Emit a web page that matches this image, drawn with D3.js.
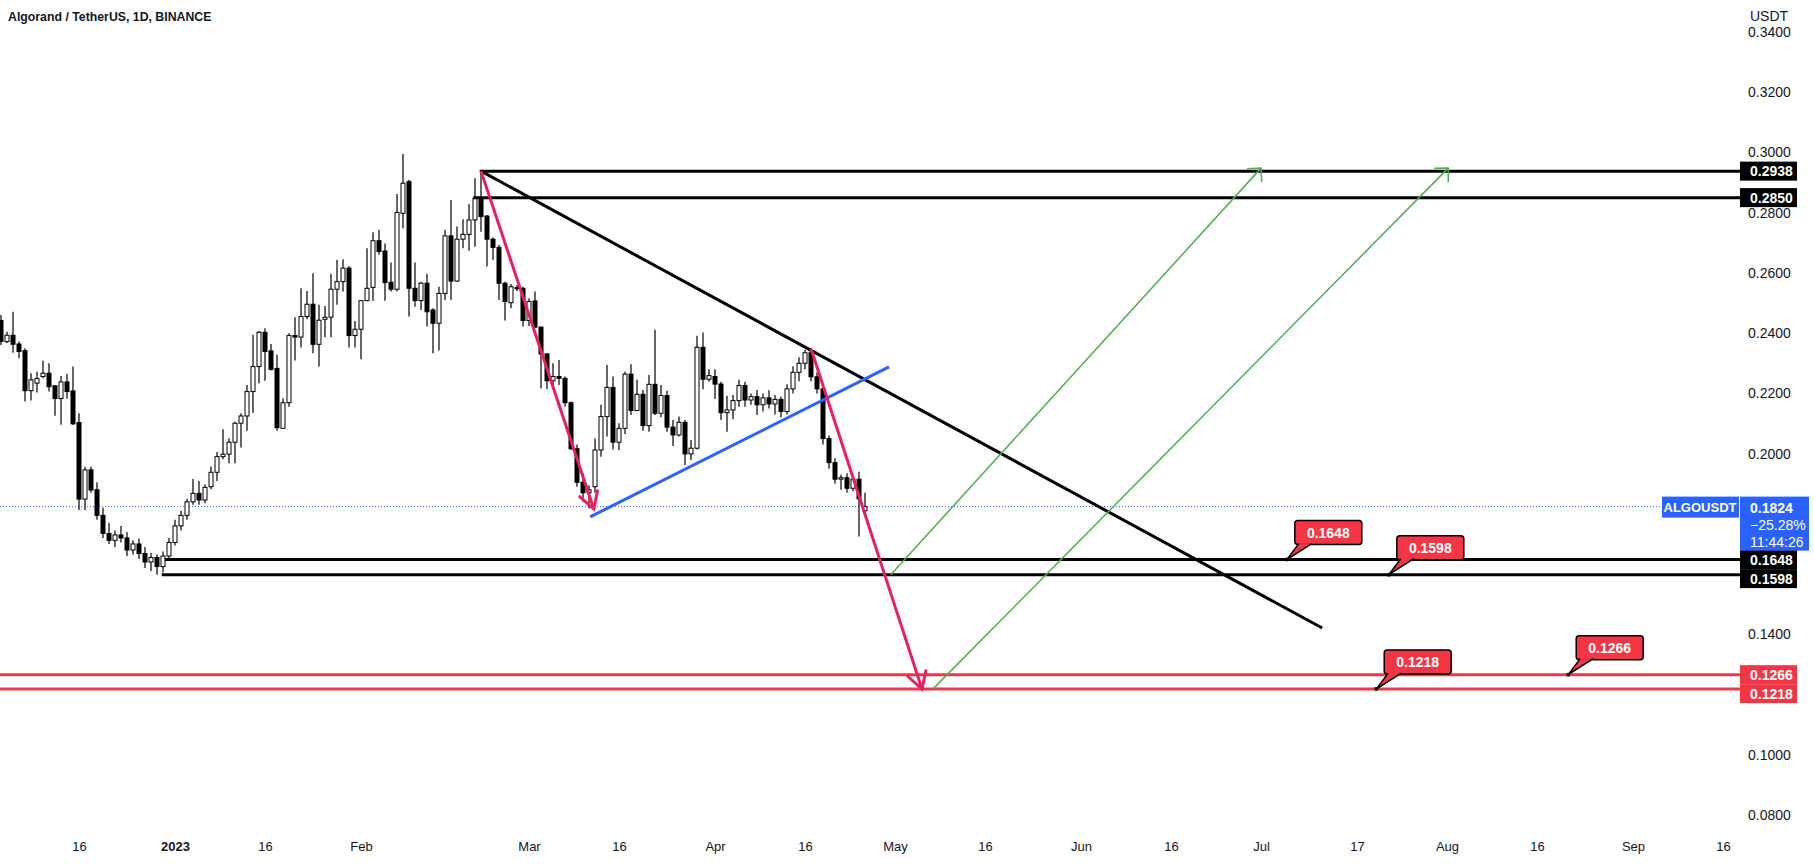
<!DOCTYPE html>
<html>
<head>
<meta charset="utf-8">
<script src="https://cdn.jsdelivr.net/npm/d3@7"></script>
<style>
  body { margin: 0; background: #fff; }
  svg { display: block; font-family: "Liberation Sans", Arial, sans-serif; }
</style>
</head>
<body>
<script>
// Daily candles, first one is 3 Dec 2022 (day -29 counted from 1 Jan 2023)
const firstDay = -29;
const opens = [
  .2442,.2372,.2393,.2364,.2342,.2209,.2234,.2256,.2267,.2225,.2183,.2238,.2208,.2103,.1849,.1946,
  .1880,.1795,.1735,.1712,.1730,.1720,.1680,.1700,.1668,.1640,.1655,.1625,.1660,.1705,.1760,.1795,
  .1840,.1868,.1846,.1890,.1938,.1990,.1998,.2038,.2101,.2125,.2206,.2289,.2403,.2341,.2283,.2084,
  .2169,.2392,.2387,.2455,.2496,.2363,.2446,.2453,.2546,.2571,.2616,.2392,.2413,.2508,.2552,.2707,
  .2673,.2569,.2546,.2798,.2903,.2549,.2508,.2566,.2477,.2433,.2532,.2723,.2573,.2712,.2728,.2776,
  .2848,.2789,.2712,.2685,.2566,.2501,.2551,.2549,.2442,.2507,.2420,.2331,.2242,.2256,.2250,.2169,
  .2016,.1905,.1870,.1890,.2012,.2123,.2220,.2038,.2084,.2264,.2143,.2197,.2093,.2230,.2134,.2193,
  .2088,.2062,.2104,.1999,.2018,.2353,.2247,.2256,.2231,.2136,.2145,.2176,.2226,.2178,.2189,
  .2162,.2185,.2165,.2180,.2140,.2215,.2270,.2300,.2335,.2255,.2215,.2050,.1970,.1915,.1920,.1885,.1915,.1810
];
const highs = [
  .2460,.2405,.2471,.2372,.2350,.2267,.2272,.2308,.2300,.2228,.2258,.2265,.2289,.2134,.1956,.1956,
  .1905,.1820,.1770,.1745,.1760,.1740,.1712,.1718,.1690,.1670,.1665,.1675,.1720,.1780,.1810,.1850,
  .1916,.1909,.1898,.1957,.2005,.2081,.2051,.2106,.2134,.2228,.2394,.2407,.2416,.2364,.2328,.2184,
  .2400,.2453,.2549,.2540,.2599,.2494,.2490,.2597,.2643,.2645,.2623,.2440,.2510,.2682,.2735,.2743,
  .2698,.2635,.2862,.2995,.2909,.2635,.2571,.2597,.2483,.2554,.2743,.2842,.2754,.2778,.2829,.2914,
  .2938,.2792,.2718,.2693,.2571,.2563,.2560,.2554,.2516,.2538,.2422,.2333,.2300,.2311,.2256,.2173,
  .2030,.1935,.1895,.2050,.2162,.2294,.2256,.2101,.2272,.2297,.2245,.2211,.2261,.2411,.2228,.2209,
  .2112,.2123,.2112,.2045,.2391,.2402,.2280,.2280,.2239,.2192,.2195,.2245,.2239,.2200,.2211,
  .2200,.2210,.2195,.2190,.2230,.2290,.2320,.2345,.2350,.2270,.2225,.2060,.1985,.1930,.1935,.1930,.1940,.1870
];
const lows = [
  .2361,.2367,.2335,.2317,.2173,.2176,.2203,.2250,.2206,.2126,.2096,.2182,.2095,.1813,.1813,.1870,
  .1780,.1720,.1700,.1690,.1705,.1660,.1665,.1650,.1620,.1610,.1598,.1605,.1650,.1695,.1745,.1780,
  .1830,.1830,.1835,.1882,.1909,.1981,.1968,.1968,.2020,.2076,.2136,.2234,.2242,.2276,.2076,.2084,
  .2156,.2309,.2352,.2446,.2333,.2289,.2386,.2386,.2494,.2538,.2352,.2352,.2313,.2508,.2508,.2660,
  .2508,.2538,.2538,.2748,.2455,.2488,.2477,.2422,.2333,.2342,.2510,.2510,.2571,.2682,.2674,.2687,
  .2737,.2621,.2643,.2510,.2442,.2483,.2540,.2422,.2424,.2416,.2217,.2214,.2217,.2228,.2156,.2012,
  .1890,.1840,.1818,.1870,.1990,.2057,.2014,.2012,.2065,.2128,.2143,.2076,.2073,.2128,.2121,.2073,
  .2025,.2057,.1962,.1979,.2014,.2214,.2239,.2181,.2112,.2073,.2114,.2156,.2156,.2162,.2128,
  .2140,.2150,.2130,.2120,.2130,.2200,.2240,.2280,.2240,.2200,.2030,.1950,.1900,.1880,.1870,.1875,.1725,.1805
];
const closes = [
  .2372,.2393,.2363,.2339,.2209,.2245,.2249,.2267,.2222,.2183,.2238,.2206,.2099,.1849,.1946,.1879,
  .1795,.1735,.1712,.1730,.1720,.1680,.1700,.1668,.1640,.1655,.1625,.1660,.1705,.1760,.1795,.1840,
  .1868,.1846,.1888,.1938,.1990,.1998,.2038,.2101,.2125,.2206,.2289,.2403,.2339,.2280,.2086,.2169,
  .2392,.2387,.2455,.2496,.2363,.2443,.2453,.2546,.2571,.2616,.2392,.2413,.2508,.2549,.2707,.2671,
  .2568,.2546,.2801,.2898,.2549,.2508,.2566,.2471,.2433,.2532,.2723,.2573,.2712,.2728,.2776,.2848,
  .2787,.2712,.2685,.2566,.2505,.2554,.2548,.2442,.2505,.2420,.2331,.2242,.2256,.2250,.2169,.2016,
  .1905,.1870,.1880,.2012,.2123,.2220,.2038,.2084,.2264,.2143,.2197,.2093,.2230,.2134,.2193,.2088,
  .2062,.2104,.1999,.2018,.2353,.2247,.2259,.2231,.2136,.2145,.2176,.2226,.2178,.2189,.2162,
  .2185,.2165,.2180,.2140,.2215,.2270,.2300,.2335,.2255,.2215,.2050,.1970,.1915,.1920,.1885,.1915,.1850,.1824
];

// axis ticks
const priceTicks = [0.34, 0.32, 0.30, 0.28, 0.26, 0.24, 0.22, 0.20, 0.14, 0.10, 0.08];
const timeTicks = [-16, 0, 15, 31, 59, 74, 90, 105, 120, 135, 151, 166, 181, 197, 212, 227, 243, 258];
const timeLabels = ["16", "2023", "16", "Feb", "Mar", "16", "Apr", "16", "May", "16", "Jun", "16", "Jul", "17", "Aug", "16", "Sep", "16"];

// drawings (day from 1 Jan 2023, price)
const levels = [
  { price: 0.2938, from: 50.8, color: "#000" },
  { price: 0.2850, from: 49.7, color: "#000" },
  { price: 0.1648, from: -1.7, color: "#000" },
  { price: 0.1598, from: -2.2, color: "#000" },
  { price: 0.1266, from: -31, color: "#f23645" },
  { price: 0.1218, from: -31, color: "#f23645" }
];
const trendLine = [[51, 0.2938], [191.2, 0.1421]];
const supportLine = [[69.2, 0.1790], [119, 0.2288]];
const redArrows = [
  [[51, 0.2938], [69.8, 0.1816]],
  [[106, 0.2348], [124.5, 0.1218]]
];
const greenArrows = [
  [[119.3, 0.1598], [181, 0.2948]],
  [[126.3, 0.1218], [212.2, 0.2948]]
];
const callouts = [
  { text: "0.1648", day: 185.3, price: 0.1648 },
  { text: "0.1598", day: 202.3, price: 0.1598 },
  { text: "0.1218", day: 200.2, price: 0.1218 },
  { text: "0.1266", day: 232.2, price: 0.1266 }
];
const lastPrice = 0.1824;

const W = 1814, H = 864, paneRight = 1740;
const day0 = Date.UTC(2023, 0, 1);
const toDate = d => new Date(day0 + d * 864e5);

const x = d3.scaleUtc().domain([toDate(0), toDate(243)]).range([175, 175 + 243 * 6]);
const y = d3.scaleLinear().domain([0.34, 0.08]).range([32, 815]);
const px = d => x(toDate(d));

const svg = d3.select("body").append("svg")
    .attr("width", W)
    .attr("height", H);

svg.append("rect").attr("width", W).attr("height", H).attr("fill", "#fff");

svg.append("clipPath").attr("id", "pane")
  .append("rect").attr("width", paneRight).attr("height", 830);

const pane = svg.append("g").attr("clip-path", "url(#pane)");

// last price dotted line
pane.append("line")
    .attr("x1", 0).attr("x2", 1662)
    .attr("y1", y(lastPrice)).attr("y2", y(lastPrice))
    .attr("stroke", "#2962ff")
    .attr("stroke-width", 1)
    .attr("stroke-dasharray", "1,2");

// candles
const candles = opens.map((o, i) => ({
  date: toDate(firstDay + i), o, h: highs[i], l: lows[i], c: closes[i]
}));

const cg = pane.selectAll(".candle")
    .data(candles)
    .enter().append("g");

cg.append("line")
    .attr("x1", d => x(d.date)).attr("x2", d => x(d.date))
    .attr("y1", d => y(d.h)).attr("y2", d => y(d.l))
    .attr("stroke", "#000")
    .attr("stroke-width", 1.2);

cg.append("rect")
    .attr("x", d => x(d.date) - 2)
    .attr("width", 4)
    .attr("y", d => y(Math.max(d.o, d.c)))
    .attr("height", d => Math.max(1, Math.abs(y(d.o) - y(d.c))))
    .attr("fill", d => d.c >= d.o ? "#fff" : "#000")
    .attr("stroke", "#000")
    .attr("stroke-width", 1);

// horizontal levels
pane.selectAll(".level")
    .data(levels)
    .enter().append("line")
    .attr("x1", d => px(d.from)).attr("x2", paneRight)
    .attr("y1", d => y(d.price)).attr("y2", d => y(d.price))
    .attr("stroke", d => d.color)
    .attr("stroke-width", 3);

const line = d3.line().x(d => px(d[0])).y(d => y(d[1]));

pane.append("path").attr("d", line(trendLine))
    .attr("fill", "none").attr("stroke", "#000").attr("stroke-width", 3);

pane.append("path").attr("d", line(supportLine))
    .attr("fill", "none").attr("stroke", "#2962ff").attr("stroke-width", 3);

function arrowHead(seg, len, ang) {
  const x0 = px(seg[0][0]), y0 = y(seg[0][1]);
  const x1 = px(seg[1][0]), y1 = y(seg[1][1]);
  const a = Math.atan2(y0 - y1, x0 - x1);
  const p1 = [x1 + len * Math.cos(a + ang), y1 + len * Math.sin(a + ang)];
  const p2 = [x1 + len * Math.cos(a - ang), y1 + len * Math.sin(a - ang)];
  return `M${p1}L${x1},${y1}L${p2}`;
}

redArrows.forEach(seg => {
  pane.append("path").attr("d", line(seg))
      .attr("fill", "none").attr("stroke", "#e91e63").attr("stroke-width", 3);
  pane.append("path").attr("d", arrowHead(seg, 20, Math.PI / 6))
      .attr("fill", "none").attr("stroke", "#e91e63").attr("stroke-width", 3)
      .attr("stroke-linejoin", "miter");
});

greenArrows.forEach(seg => {
  pane.append("path").attr("d", line(seg))
      .attr("fill", "none").attr("stroke", "#4caf50").attr("stroke-width", 1.5);
  pane.append("path").attr("d", arrowHead(seg, 14, Math.PI / 4))
      .attr("fill", "none").attr("stroke", "#4caf50").attr("stroke-width", 1.5);
});

// price callouts
callouts.forEach(c => {
  const ax = px(c.day), ay = y(c.price);
  const bx = ax + 8, bw = 67, bh = 24, by = ay - 15 - bh;
  pane.append("rect")
      .attr("x", bx).attr("y", by).attr("width", bw).attr("height", bh)
      .attr("rx", 3)
      .attr("fill", "#f23645").attr("stroke", "#000").attr("stroke-width", 1.5);
  pane.append("path")
      .attr("d", `M${bx + 4},${by + bh - 1}L${ax},${ay}L${bx + 17},${by + bh - 1}`)
      .attr("fill", "#f23645").attr("stroke", "#000").attr("stroke-width", 1.5);
  pane.append("circle").attr("cx", ax).attr("cy", ay).attr("r", 2).attr("fill", "#000");
  pane.append("text")
      .attr("x", bx + bw / 2).attr("y", by + bh / 2 + 5)
      .attr("text-anchor", "middle")
      .attr("font-size", 14).attr("font-weight", "bold")
      .attr("fill", "#fff")
      .text(c.text);
});

// title
svg.append("text")
    .attr("x", 8).attr("y", 21)
    .attr("font-size", 12.3).attr("font-weight", "bold")
    .attr("fill", "#131722")
    .text("Algorand / TetherUS, 1D, BINANCE");

// price axis
svg.append("text")
    .attr("x", 1750).attr("y", 21)
    .attr("font-size", 14).attr("fill", "#131722")
    .text("USDT");

const yAxis = svg.append("g")
    .attr("transform", `translate(${paneRight},0)`)
    .call(d3.axisRight(y).tickValues(priceTicks).tickFormat(d3.format(".4f")).tickSize(0).tickPadding(8));
yAxis.select(".domain").remove();
yAxis.selectAll("text")
    .attr("font-family", "Liberation Sans, Arial, sans-serif")
    .attr("font-size", 14).attr("fill", "#131722");

// time axis
const xAxis = svg.append("g")
    .attr("transform", "translate(0,842)")
    .call(d3.axisBottom(x)
      .tickValues(timeTicks.map(toDate))
      .tickFormat((d, i) => timeLabels[i])
      .tickSize(0).tickPadding(0));
xAxis.select(".domain").remove();
xAxis.selectAll("text")
    .attr("font-family", "Liberation Sans, Arial, sans-serif")
    .attr("font-size", 13).attr("fill", "#131722")
    .attr("font-weight", (d, i) => timeLabels[i] === "2023" ? "bold" : "normal");

// level labels on the price axis, pushed apart when they overlap
const boxH = 19;
let lastBottom = -Infinity;
levels.map(l => ({ ...l, yc: y(l.price) }))
  .sort((a, b) => a.yc - b.yc)
  .forEach(l => {
    let top = l.yc - boxH / 2;
    if (top < lastBottom) top = lastBottom;
    lastBottom = top + boxH;
    svg.append("rect")
        .attr("x", paneRight).attr("y", top).attr("width", 57).attr("height", boxH)
        .attr("fill", l.color);
    svg.append("text")
        .attr("x", 1750).attr("y", top + boxH / 2 + 5)
        .attr("font-size", 14).attr("font-weight", "bold").attr("fill", "#fff")
        .text(l.price.toFixed(4));
  });

// last price labels
const ly = y(lastPrice);
svg.append("rect")
    .attr("x", 1662).attr("y", ly - 10).attr("width", 77).attr("height", 21)
    .attr("fill", "#2962ff");
svg.append("text")
    .attr("x", 1700).attr("y", ly + 5)
    .attr("text-anchor", "middle")
    .attr("font-size", 13).attr("font-weight", "bold").attr("fill", "#fff")
    .text("ALGOUSDT");
svg.append("rect")
    .attr("x", paneRight).attr("y", ly - 10).attr("width", 69).attr("height", 54)
    .attr("fill", "#2962ff");
[["0.1824", "bold"], ["\u221225.28%", "normal"], ["11:44:26", "normal"]].forEach((t, i) => {
  svg.append("text")
      .attr("x", 1750).attr("y", ly + 6 + i * 17)
      .attr("font-size", 14).attr("font-weight", t[1]).attr("fill", "#fff")
      .text(t[0]);
});
</script>
</body>
</html>
